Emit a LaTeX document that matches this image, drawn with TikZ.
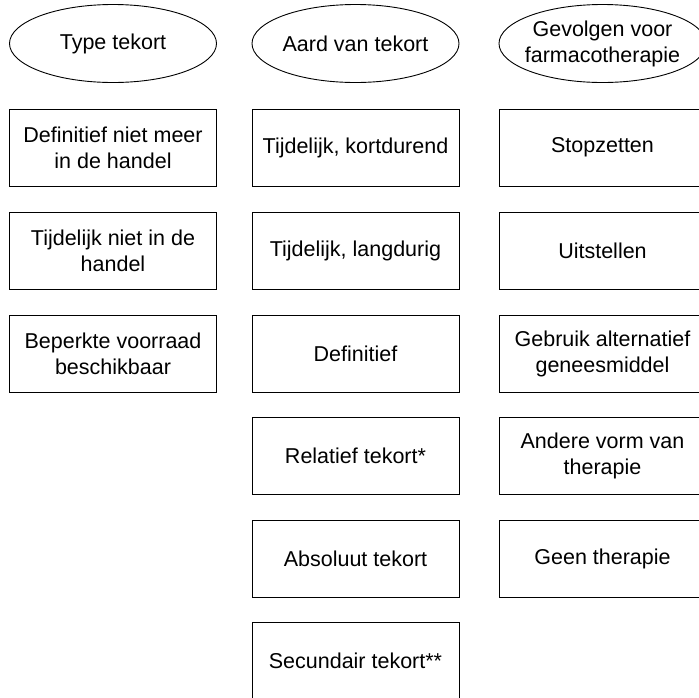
\documentclass[tikz,border=0pt]{standalone}
\usepackage{fontspec}
\setmainfont{Liberation Sans}
\usetikzlibrary{shapes.geometric}

\begin{document}
\begin{tikzpicture}[x=1pt,y=-1pt,line width=0.9pt,
    font=\fontsize{21.5}{26}\selectfont,
    kop/.style={ellipse,draw,minimum width=207pt,minimum height=78pt,
                inner xsep=-5pt,inner ysep=0pt,align=center},
    vak/.style={rectangle,draw,minimum width=207pt,minimum height=77pt,
                inner sep=0pt,align=center}]
\clip (0,0) rectangle (699,697);
\node (type0)   at (113,43.5)   [kop] {Type tekort};
\node (aard0)   at (355.5,43.5) [kop] {Aard van tekort};
\node (gevolg0) at (602.5,43.5) [kop] {Gevolgen voor\\farmacotherapie};
\node (type1)   at (113,147.5)  [vak] {Definitief niet meer\\in de handel};
\node (type2)   at (113,250.5)  [vak] {Tijdelijk niet in de\\handel};
\node (type3)   at (113,353.5)  [vak] {Beperkte voorraad\\beschikbaar};
\node (aard1)   at (355.5,147.5) [vak] {Tijdelijk, kortdurend};
\node (aard2)   at (355.5,250.5) [vak] {Tijdelijk, langdurig};
\node (aard3)   at (355.5,353.5) [vak] {Definitief};
\node (aard4)   at (355.5,456)   [vak] {Relatief tekort*};
\node (aard5)   at (355.5,558.5) [vak] {Absoluut tekort};
\node (aard6)   at (355.5,660.5) [vak] {Secundair tekort**};
\node (gevolg1) at (602.5,147.5) [vak] {Stopzetten};
\node (gevolg2) at (602.5,250.5) [vak] {Uitstellen};
\node (gevolg3) at (602.5,353.5) [vak] {Gebruik alternatief\\geneesmiddel};
\node (gevolg4) at (602.5,456)   [vak] {Andere vorm van\\therapie};
\node (gevolg5) at (602.5,558.5) [vak] {Geen therapie};
\end{tikzpicture}
\end{document}
